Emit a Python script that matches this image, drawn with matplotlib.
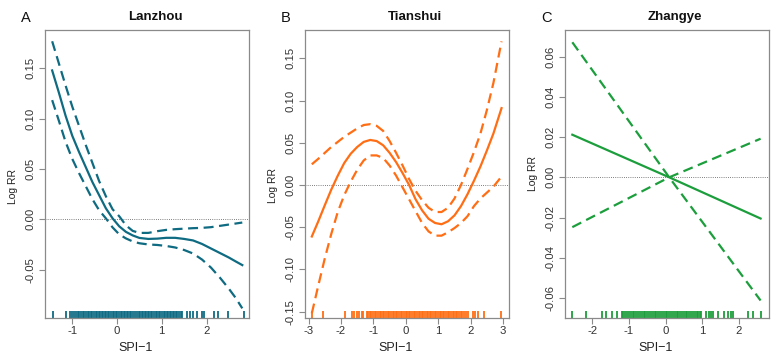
import matplotlib
matplotlib.use('Agg')
import matplotlib.pyplot as plt

plt.rcParams['font.family'] = ['Liberation Sans', 'DejaVu Sans']

# ---------------- data ----------------
titles = ["Lanzhou", "Tianshui", "Zhangye"]
letters = ["A", "B", "C"]
colors = ["#0f6b82", "#ff6e14", "#1c9e3c"]

# Panel A (Lanzhou)
xA = [-1.45, -1.3, -1.15, -1.0, -0.85, -0.7, -0.55, -0.4, -0.25, -0.1, 0.05, 0.2,
      0.35, 0.5, 0.7, 0.9, 1.1, 1.3, 1.5, 1.7, 1.9, 2.1, 2.3, 2.5, 2.65, 2.8]
fitA = [0.148, 0.126, 0.103, 0.083, 0.067, 0.052, 0.037, 0.024, 0.011, 0.001, -0.007, -0.0125,
        -0.016, -0.0185, -0.0195, -0.0192, -0.0184, -0.0184, -0.0195, -0.021, -0.0245, -0.029,
        -0.0335, -0.038, -0.0418, -0.0455]
upA = [0.177, 0.155, 0.133, 0.112, 0.093, 0.074, 0.056, 0.038, 0.023, 0.010, 0.003, -0.006,
       -0.0115, -0.0135, -0.0135, -0.0118, -0.0105, -0.0098, -0.0093, -0.0088, -0.0085, -0.0078,
       -0.0065, -0.0052, -0.0042, -0.0032]
loA = [0.1185, 0.098, 0.077, 0.060, 0.046, 0.033, 0.020, 0.009, 0.001, -0.008, -0.015, -0.019,
       -0.022, -0.0238, -0.025, -0.0255, -0.0265, -0.028, -0.0305, -0.034, -0.040, -0.048,
       -0.058, -0.069, -0.078, -0.0885]
rugA = [-1.43, -1.14, -1.05, -1.0, -0.97, -0.92, -0.88, -0.85, -0.8, -0.76, -0.73, -0.69, -0.66,
        -0.62, -0.59, -0.55, -0.52, -0.48, -0.45, -0.41, -0.38, -0.34, -0.31, -0.27, -0.24, -0.2,
        -0.17, -0.13, -0.1, -0.06, -0.03, 0.01, 0.04, 0.08, 0.11, 0.15, 0.18, 0.22, 0.25, 0.29,
        0.32, 0.35, 0.41, 0.44, 0.48, 0.51, 0.55, 0.58, 0.62, 0.65, 0.69, 0.72, 0.76, 0.79, 0.83,
        0.86, 0.9, 0.93, 0.97, 1.0, 1.04, 1.07, 1.11, 1.14, 1.18, 1.21, 1.25, 1.28, 1.32, 1.35,
        1.39, 1.42, 1.45, 1.56, 1.63, 1.7, 1.78, 1.89, 1.95, 2.16, 2.25, 2.48, 2.83]

# Panel B (Tianshui)
xB = [-2.9, -2.7, -2.5, -2.3, -2.1, -1.9, -1.7, -1.5, -1.3, -1.1, -0.9, -0.7, -0.5, -0.3,
      -0.1, 0.1, 0.3, 0.5, 0.7, 0.9, 1.1, 1.3, 1.5, 1.7, 1.9, 2.1, 2.3, 2.5, 2.7, 2.95]
fitB = [-0.061, -0.043, -0.024, -0.0055, 0.011, 0.026, 0.037, 0.045, 0.051, 0.0533, 0.052,
        0.047, 0.038, 0.027, 0.014, 0.0, -0.017, -0.030, -0.040, -0.045, -0.0465, -0.043,
        -0.036, -0.025, -0.011, 0.005, 0.022, 0.041, 0.061, 0.091]
upB = [0.0245, 0.031, 0.038, 0.045, 0.051, 0.057, 0.062, 0.067, 0.071, 0.072, 0.070, 0.064,
       0.052, 0.038, 0.023, 0.007, -0.007, -0.018, -0.027, -0.032, -0.032, -0.027, -0.016,
       0.0, 0.019, 0.039, 0.061, 0.089, 0.121, 0.170]
loB = [-0.152, -0.119, -0.087, -0.058, -0.032, -0.012, 0.004, 0.018, 0.029, 0.035, 0.035,
       0.032, 0.023, 0.011, -0.003, -0.017, -0.031, -0.045, -0.055, -0.060, -0.060, -0.056,
       -0.051, -0.045, -0.037, -0.025, -0.016, -0.009, -0.002, 0.010]
rugB = [-2.88, -2.55, -1.88, -1.67, -1.59, -1.51, -1.44, -1.36, -1.31, -1.21, -1.16, -1.11,
        -1.06, -1.01, -0.96, -0.91, -0.86, -0.81, -0.76, -0.71, -0.66, -0.61, -0.56, -0.51,
        -0.46, -0.41, -0.36, -0.31, -0.26, -0.21, -0.16, -0.11, -0.06, -0.01, 0.04, 0.09,
        0.14, 0.19, 0.24, 0.29, 0.34, 0.39, 0.44, 0.49, 0.54, 0.59, 0.64, 0.69, 0.74, 0.79,
        0.84, 0.89, 0.94, 0.99, 1.04, 1.09, 1.14, 1.19, 1.24, 1.29, 1.34, 1.39, 1.44, 1.49,
        1.54, 1.59, 1.64, 1.69, 1.74, 1.79, 1.84, 1.92, 2.07, 2.14, 2.22, 2.4, 2.94]

# Panel C (Zhangye)
xC = [-2.55, 0.1, 2.6]
fitC = [0.0212, 0.0, -0.0205]
upC = [-0.0248, 0.0, 0.0192]
loC = [0.0672, 0.0, -0.0613]
rugC = [-2.55, -2.18, -1.73, -1.64, -1.47, -1.34, -1.2, -1.15, -1.1, -1.05, -1.0, -0.95,
        -0.9, -0.85, -0.8, -0.75, -0.7, -0.65, -0.6, -0.55, -0.5, -0.45, -0.4, -0.35, -0.3,
        -0.25, -0.2, -0.15, -0.1, -0.05, 0.0, 0.05, 0.1, 0.15, 0.2, 0.25, 0.3, 0.35, 0.4,
        0.45, 0.5, 0.55, 0.6, 0.65, 0.7, 0.75, 0.8, 0.85, 0.9, 0.95, 0.98, 1.12, 1.18, 1.25,
        1.3, 1.43, 1.61, 1.7, 1.78, 1.84, 2.25, 2.39, 2.6]

xticksA = [-1, 0, 1, 2]
xticksB = [-3, -2, -1, 0, 1, 2, 3]
xticksC = [-2, -1, 0, 1, 2]
yticksA = [-0.05, 0.0, 0.05, 0.10, 0.15]
yticksB = [-0.15, -0.10, -0.05, 0.0, 0.05, 0.10, 0.15]
yticksC = [-0.06, -0.04, -0.02, 0.0, 0.02, 0.04, 0.06]
ytlA = ["-0.05", "0.00", "0.05", "0.10", "0.15"]
ytlB = ["-0.15", "-0.10", "-0.05", "0.00", "0.05", "0.10", "0.15"]
ytlC = ["-0.06", "-0.04", "-0.02", "0.00", "0.02", "0.04", "0.06"]

# ---------------- layout ----------------
W, H = 780, 363
fig = plt.figure(figsize=(W / 100, H / 100), dpi=100)

panels = [
    dict(x=xA, fit=fitA, up=upA, lo=loA, rug=rugA, xt=xticksA, yt=yticksA, ytl=ytlA,
         xlim=(-1.61, 2.95), ylim=(-0.0981, 0.1882), left=45, ylab_y=186.5),
    dict(x=xB, fit=fitB, up=upB, lo=loB, rug=rugB, xt=xticksB, yt=yticksB, ytl=ytlB,
         xlim=(-3.11, 3.18), ylim=(-0.1575, 0.1835), left=305, ylab_y=186),
    dict(x=xC, fit=fitC, up=upC, lo=loC, rug=rugC, xt=xticksC, yt=yticksC, ytl=ytlC,
         xlim=(-2.75, 2.83), ylim=(-0.070, 0.0733), left=565, ylab_y=174),
]

ax_w, top_px, bot_px = 204, 30, 318
frame_col = "#8a8a8a"

for i, p in enumerate(panels):
    c = colors[i]
    l = p["left"]
    ax = fig.add_axes([l / W, 1 - bot_px / H, ax_w / W, (bot_px - top_px) / H])
    ax.axhline(0, color="#555555", lw=0.6, ls=(0, (1, 1.6)), zorder=1)
    ax.plot(p["x"], p["fit"], color=c, lw=1.6, zorder=3)
    ax.plot(p["x"], p["up"], color=c, lw=1.6, ls=(0, (4.5, 2.5)), zorder=3)
    ax.plot(p["x"], p["lo"], color=c, lw=1.6, ls=(0, (4.5, 2.5)), zorder=3)
    ax.vlines(p["rug"], 0, 0.024, transform=ax.get_xaxis_transform(), color=c, lw=1.3)
    ax.set_xlim(*p["xlim"])
    ax.set_ylim(*p["ylim"])
    ax.set_xticks(p["xt"])
    ax.set_xticklabels([str(v) for v in p["xt"]])
    ax.set_yticks(p["yt"])
    ax.set_yticklabels(p["ytl"], rotation=90, va="center")
    for s in ax.spines.values():
        s.set_color(frame_col)
        s.set_linewidth(0.9)
    ax.tick_params(direction="out", length=4, width=0.8, color=frame_col,
                   labelsize=8.2, labelcolor="#333333")
    ax.tick_params(axis="x", pad=2)
    ax.tick_params(axis="y", pad=3)
    cx = l + ax_w / 2
    fig.text((cx + 8) / W, 1 - 16.7 / H, titles[i], ha="center", va="center",
             fontsize=9.5, fontweight="bold", color="#111111")
    fig.text((l - 19) / W, 1 - 18.3 / H, letters[i], ha="center", va="center",
             fontsize=10.5, color="#111111")
    fig.text((l - 31.5) / W, 1 - p["ylab_y"] / H, "Log RR", ha="center", va="center",
             rotation=90, fontsize=7.5, color="#222222")
    fig.text((cx - 11.5) / W, 1 - 348 / H, "SPI\u22121", ha="center", va="center",
             fontsize=9, color="#222222")

fig.savefig("out.png", dpi=100)
